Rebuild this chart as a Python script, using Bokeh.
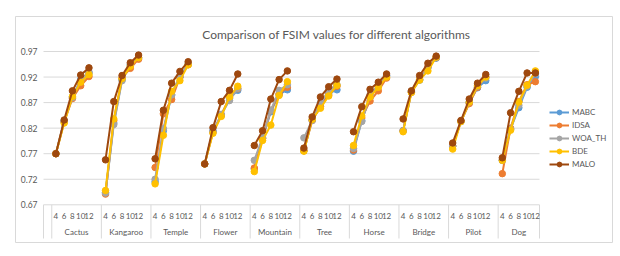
from bokeh.plotting import figure
from bokeh.models import Legend, LegendItem, Range1d
from bokeh.embed import file_html
from bokeh.resources import INLINE
from bokeh.core.properties import value

# ---------------- data ----------------
categories = ["Cactus", "Kangaroo", "Temple", "Flower", "Mountain",
              "Tree", "Horse", "Bridge", "Pilot", "Dog"]
thresholds = ["4", "6", "8", "10", "12"]
y_ticks = [0.67, 0.72, 0.77, 0.82, 0.87, 0.92, 0.97]
series_names = ["MABC", "IDSA", "WOA_TH", "BDE", "MALO"]

mabc = [0.770, 0.834, 0.881, 0.915, 0.928,
        0.694, 0.830, 0.915, 0.943, 0.957,
        0.715, 0.815, 0.885, 0.920, 0.945,
        0.750, 0.815, 0.845, 0.878, 0.894,
        0.740, 0.800, 0.852, 0.886, 0.895,
        0.776, 0.836, 0.862, 0.888, 0.895,
        0.775, 0.835, 0.880, 0.903, 0.923,
        0.815, 0.892, 0.914, 0.939, 0.957,
        0.785, 0.833, 0.870, 0.899, 0.913,
        0.757, 0.818, 0.860, 0.900, 0.921]
idsa = [0.770, 0.832, 0.878, 0.903, 0.921,
        0.691, 0.835, 0.918, 0.937, 0.955,
        0.743, 0.848, 0.876, 0.920, 0.944,
        0.750, 0.812, 0.846, 0.880, 0.897,
        0.742, 0.800, 0.855, 0.887, 0.900,
        0.776, 0.835, 0.862, 0.885, 0.902,
        0.777, 0.840, 0.873, 0.893, 0.918,
        0.815, 0.890, 0.916, 0.940, 0.958,
        0.785, 0.833, 0.868, 0.900, 0.920,
        0.731, 0.820, 0.872, 0.905, 0.911]
woa_th = [0.770, 0.833, 0.880, 0.913, 0.930,
          0.693, 0.827, 0.913, 0.945, 0.958,
          0.720, 0.819, 0.885, 0.922, 0.946,
          0.750, 0.813, 0.847, 0.874, 0.898,
          0.757, 0.802, 0.855, 0.894, 0.905,
          0.801, 0.835, 0.870, 0.893, 0.905,
          0.780, 0.833, 0.885, 0.905, 0.922,
          0.815, 0.891, 0.915, 0.938, 0.958,
          0.785, 0.834, 0.871, 0.902, 0.918,
          0.757, 0.818, 0.865, 0.902, 0.927]
bde = [0.770, 0.830, 0.882, 0.910, 0.925,
       0.698, 0.838, 0.917, 0.941, 0.958,
       0.711, 0.806, 0.892, 0.913, 0.944,
       0.750, 0.810, 0.843, 0.881, 0.902,
       0.735, 0.796, 0.826, 0.884, 0.911,
       0.775, 0.837, 0.859, 0.883, 0.904,
       0.786, 0.844, 0.881, 0.900, 0.920,
       0.813, 0.890, 0.914, 0.932, 0.959,
       0.779, 0.833, 0.871, 0.903, 0.920,
       0.757, 0.816, 0.871, 0.904, 0.932]
malo = [0.770, 0.836, 0.893, 0.924, 0.938,
        0.758, 0.872, 0.923, 0.948, 0.963,
        0.760, 0.855, 0.908, 0.931, 0.950,
        0.750, 0.821, 0.872, 0.894, 0.926,
        0.786, 0.815, 0.877, 0.915, 0.932,
        0.781, 0.842, 0.881, 0.901, 0.916,
        0.813, 0.862, 0.896, 0.910, 0.926,
        0.838, 0.893, 0.923, 0.947, 0.961,
        0.791, 0.835, 0.877, 0.908, 0.925,
        0.762, 0.850, 0.892, 0.928, 0.928]

series_values = [mabc, idsa, woa_th, bde, malo]
colors = ["#5B9BD5", "#ED7D31", "#A5A5A5", "#FFC000", "#9E480E"]

# ---------------- layout helpers ----------------
FONT = "Lato"
TXT = "#595959"
GRID = "#d9d9d9"
n_groups = len(categories)
n_k = len(thresholds)
slots_per_group = n_k + 1
n_slots = n_groups * slots_per_group  # leading blank + 5 values per group

# pixel geometry of the frame (chart area) and plot area
FR_L, FR_R, FR_T, FR_B = 15.0, 612.0, 16.0, 242.0
PL_L, PL_R = 43.0, 539.0
slot_px = (PL_R - PL_L) / n_slots
Y_TOP_V, Y_TOP_PX = 0.97, 51.0
px_per_unit = 511.0

def px_to_x(px):
    return (px - PL_L) / slot_px

def py_to_y(py):
    return Y_TOP_V - (py - Y_TOP_PX) / px_per_unit

x0, x1 = px_to_x(FR_L), px_to_x(FR_R)
y0, y1 = py_to_y(FR_B), py_to_y(FR_T)

p = figure(width=615, height=245, output_backend="svg", toolbar_location=None,
           x_range=Range1d(x0, x1), y_range=Range1d(y0, y1),
           x_axis_type=None, y_axis_type=None,
           min_border_left=15, min_border_top=16, min_border_right=3, min_border_bottom=3)
p.grid.visible = False
p.outline_line_color = GRID
p.outline_line_width = 1
p.background_fill_color = "white"
p.border_fill_color = "white"

# gridlines
ymin = y_ticks[0]
p.segment(x0=[0] * len(y_ticks), x1=[n_slots] * len(y_ticks), y0=y_ticks, y1=y_ticks,
          line_color=GRID, line_width=1)

# y tick labels
p.text(x=[px_to_x(37)] * len(y_ticks), y=y_ticks, text=[f"{t:.2f}" for t in y_ticks],
       text_align="right", text_baseline="middle", text_color=TXT,
       text_font=value(FONT), text_font_size="8.5px")

# category axis dividers
div_x = [0] + [1 + g * slots_per_group for g in range(n_groups)] + [n_slots]
y_div_bot = py_to_y(238)
p.segment(x0=div_x, x1=div_x, y0=[ymin] * len(div_x), y1=[y_div_bot] * len(div_x),
          line_color=GRID, line_width=1)

# threshold labels
tx, tt = [], []
for g in range(n_groups):
    for k in range(n_k):
        tx.append(1.5 + g * slots_per_group + k)
        tt.append(thresholds[k])
p.text(x=tx, y=[py_to_y(215)] * len(tx), text=tt, text_align="center",
       text_baseline="middle", text_color=TXT, text_font=value(FONT),
       text_font_size="8px")

# group labels
gx = [(div_x[g + 1] + div_x[g + 2]) / 2 for g in range(n_groups)]
p.text(x=gx, y=[py_to_y(231)] * n_groups, text=categories, text_align="center",
       text_baseline="middle", text_color=TXT, text_font=value(FONT),
       text_font_size="8px")

# title
p.text(x=[px_to_x(336)], y=[py_to_y(34)], text=["Comparison of FSIM values for different algorithms"],
       text_align="center", text_baseline="middle", text_color=TXT,
       text_font=value(FONT), text_font_size="12px")

# series
items = []
nan = float("nan")
for name, vals, col in zip(series_names, series_values, colors):
    xs, ys = [], []
    for g in range(n_groups):
        for k in range(n_k):
            xs.append(1.5 + g * slots_per_group + k)
            ys.append(vals[g * n_k + k])
        xs.append(nan)
        ys.append(nan)
    lr = p.line(xs, ys, line_color=col, line_width=2)
    sr = p.scatter(xs, ys, marker="circle", size=6.5, fill_color=col, line_color=col)
    items.append(LegendItem(label=name, renderers=[lr, sr]))

legend = Legend(items=items, location=(534, 72), glyph_width=20, glyph_height=12,
                label_height=12, spacing=1, padding=0, margin=0, label_standoff=3,
                label_text_font=FONT, label_text_font_size="8px", label_text_color=TXT,
                border_line_color=None, background_fill_alpha=0)
p.add_layout(legend, "center")

open("out.html", "w").write(file_html(p, INLINE))
